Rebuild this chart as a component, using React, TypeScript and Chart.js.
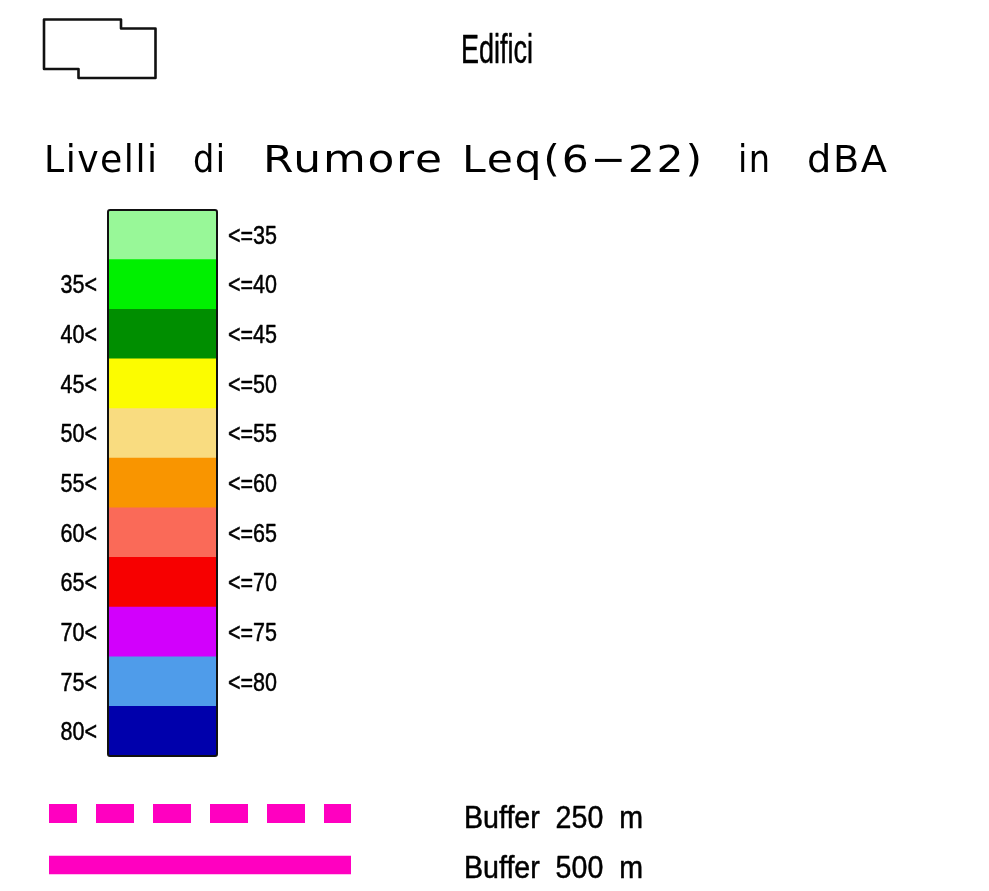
import React, { useEffect, useRef } from "react";
import { Chart, registerables } from "chart.js";

Chart.register(...registerables);

// ---- data ----
const categories = ["≤35", "35–40", "40–45", "45–50", "50–55", "55–60", "60–65", "65–70", "70–75", "75–80", ">80"];
const bandValues = [1, 1, 1, 1, 1, 1, 1, 1, 1, 1, 1];
const lowerLabels = ["", "35<", "40<", "45<", "50<", "55<", "60<", "65<", "70<", "75<", "80<"];
const upperLabels = ["<=35", "<=40", "<=45", "<=50", "<=55", "<=60", "<=65", "<=70", "<=75", "<=80", ""];
const bandColors = [
  "#98F898", "#00F000", "#008E00", "#FCFC00", "#F9DC80", "#F99500",
  "#FA6A58", "#F70000", "#D200FC", "#4F9CEA", "#0000AC",
];
const titleWords = ["Livelli", "di", "Rumore", "Leq(6−22)", "in", "dBA"];
const buildingLabel = "Edifici";
const bufferLabels = ["Buffer  250  m", "Buffer  500  m"];

// ---- layout / style ----
const W = 989;
const H = 891;
const BAR = { left: 108, right: 217, top: 210, bottom: 756 };
const TITLE_X = [44, 193, 263, 462, 738, 807];
const TITLE_W = [113, 32, 179, 240, 32, 80];
const PINK = "#FF00C0";
const LABEL_FONT = "25px 'Liberation Sans', Arial, sans-serif";

function fitText(ctx: CanvasRenderingContext2D, text: string, x: number, y: number, font: string, sx: number, align: CanvasTextAlign, bold = 0, spacing = 0) {
  ctx.save();
  ctx.font = font;
  (ctx as any).letterSpacing = spacing + "px";
  ctx.textAlign = align;
  ctx.textBaseline = "alphabetic";
  ctx.translate(x, y);
  ctx.scale(sx, 1);
  ctx.fillText(text, 0, 0);
  if (bold > 0) {
    ctx.strokeStyle = ctx.fillStyle as string;
    ctx.lineWidth = bold;
    ctx.lineJoin = "round";
    ctx.strokeText(text, 0, 0);
  }
  ctx.restore();
}

function fitWidth(ctx: CanvasRenderingContext2D, text: string, x: number, y: number, font: string, width: number, bold = 0, spacing = 0) {
  ctx.save();
  ctx.font = font;
  (ctx as any).letterSpacing = spacing + "px";
  const w = ctx.measureText(text).width - spacing;
  ctx.restore();
  fitText(ctx, text, x, y, font, width / w, "left", bold, spacing);
}

const legendPlugin = {
  id: "legendDecor",
  afterDatasetsDraw(chart: any) {
    const ctx: CanvasRenderingContext2D = chart.ctx;
    const area = chart.chartArea;
    const ys = chart.scales.y;

    // outline of colour bar
    ctx.save();
    ctx.strokeStyle = "#111";
    ctx.lineWidth = 2;
    ctx.lineJoin = "round";
    ctx.beginPath();
    (ctx as any).roundRect(area.left, area.top, area.right - area.left, area.bottom - area.top, 2);
    ctx.stroke();
    ctx.restore();

    // band labels
    ctx.save();
    ctx.fillStyle = "#000";
    categories.forEach((_, i) => {
      const yc = ys.getPixelForValue(i);
      if (lowerLabels[i]) fitText(ctx, lowerLabels[i], area.left - 11, yc + 9, LABEL_FONT, 0.86, "right", 0.5);
      if (upperLabels[i]) fitText(ctx, upperLabels[i], area.right + 11, yc + 9, LABEL_FONT, 0.86, "left", 0.5);
    });
    ctx.restore();

    // building symbol
    ctx.save();
    ctx.strokeStyle = "#111";
    ctx.lineWidth = 2.6;
    ctx.lineJoin = "round";
    ctx.beginPath();
    ctx.moveTo(44, 19.5);
    ctx.lineTo(121, 19.5);
    ctx.lineTo(121, 28.5);
    ctx.lineTo(155.5, 28.5);
    ctx.lineTo(155.5, 78);
    ctx.lineTo(78.5, 78);
    ctx.lineTo(78.5, 69);
    ctx.lineTo(44, 69);
    ctx.closePath();
    ctx.stroke();
    ctx.restore();

    ctx.fillStyle = "#000";
    fitWidth(ctx, buildingLabel, 461, 63, "40px 'Liberation Sans', Arial, sans-serif", 72, 0.5);

    // title
    ctx.fillStyle = "#000";
    titleWords.forEach((w, i) =>
      fitWidth(ctx, w, TITLE_X[i], 171.5, "37px 'DejaVu Sans', sans-serif", TITLE_W[i], 0, 1.5)
    );

    // buffer line samples
    ctx.save();
    ctx.strokeStyle = PINK;
    ctx.lineCap = "butt";
    ctx.lineWidth = 19;
    ctx.setLineDash([38, 19]);
    ctx.lineDashOffset = 10;
    ctx.beginPath();
    ctx.moveTo(49, 813.5);
    ctx.lineTo(351, 813.5);
    ctx.stroke();
    ctx.setLineDash([]);
    ctx.lineWidth = 18.5;
    ctx.beginPath();
    ctx.moveTo(49, 865);
    ctx.lineTo(351, 865);
    ctx.stroke();
    ctx.restore();

    ctx.fillStyle = "#000";
    fitWidth(ctx, bufferLabels[0], 464, 828, "31px 'Liberation Sans', Arial, sans-serif", 179, 0.5);
    fitWidth(ctx, bufferLabels[1], 464, 878, "31px 'Liberation Sans', Arial, sans-serif", 179, 0.5);
  },
};

export default function App() {
  const ref = useRef<HTMLCanvasElement | null>(null);
  useEffect(() => {
    if (!ref.current) return;
    const chart = new Chart(ref.current, {
      type: "bar",
      data: {
        labels: categories,
        datasets: [
          {
            data: bandValues,
            backgroundColor: bandColors,
            borderWidth: 0,
            barPercentage: 1,
            categoryPercentage: 1,
          },
        ],
      },
      options: {
        indexAxis: "y",
        responsive: false,
        animation: false,
        devicePixelRatio: 1,
        layout: {
          padding: { left: BAR.left, right: W - BAR.right, top: BAR.top, bottom: H - BAR.bottom },
        },
        scales: {
          x: { display: false, min: 0, max: 1 },
          y: { display: false },
        },
        plugins: {
          legend: { display: false },
          tooltip: { enabled: false },
          title: { display: false },
        },
      },
      plugins: [legendPlugin],
    });
    return () => chart.destroy();
  }, []);
  return (
    <div style={{ position: "absolute", left: 0, top: 0, width: W, height: H, background: "#fff" }}>
      <canvas ref={ref} width={W} height={H} style={{ display: "block" }} />
    </div>
  );
}
